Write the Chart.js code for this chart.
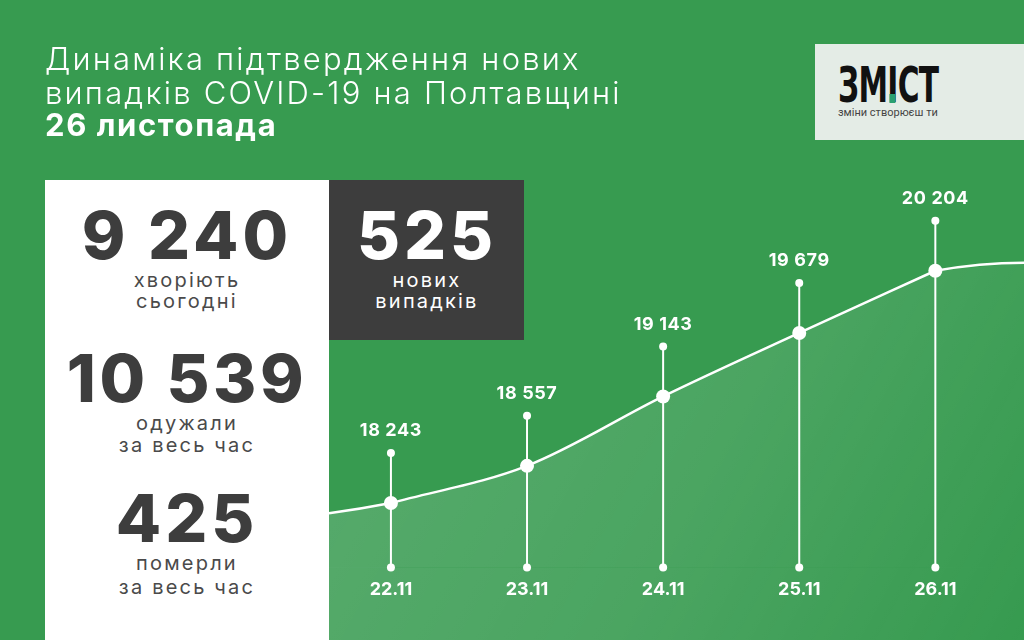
<!DOCTYPE html>
<html><head><meta charset="utf-8">
<script src="https://cdn.jsdelivr.net/npm/chart.js@4.4.1/dist/chart.umd.min.js"></script>
<style>
html,body{margin:0;padding:0;width:1024px;height:640px;overflow:hidden;background:#379b50;font-family:Inter,"Open Sans",sans-serif;}
#wrap{position:relative;width:1024px;height:640px;}
#c{position:absolute;left:0;top:0;z-index:0;}
.t{position:absolute;white-space:nowrap;z-index:2;}
.title{left:45px;color:#fff;font-size:31px;font-weight:300;letter-spacing:2.2px;}
.panel{position:absolute;left:45px;top:180px;width:284px;height:460px;background:#fff;z-index:1;}
.dark{position:absolute;left:329px;top:180px;width:195px;height:160px;background:#3d3d3d;z-index:1;}
.num{font-weight:800;font-size:66px;letter-spacing:4px;color:#3d3d3d;transform:translate(-50%,-50%);}
.sub{font-size:20px;color:#4a4a4a;font-weight:400;transform:translate(-50%,-50%);letter-spacing:2.2px;}
.logo{position:absolute;left:815px;top:44px;width:209px;height:96px;background:#e4ece6;z-index:1;}
.brand{position:absolute;left:838px;top:60px;font-family:"Liberation Sans Narrow","DejaVu Sans Condensed",sans-serif;font-weight:700;font-size:50px;line-height:50px;color:#111;z-index:2;letter-spacing:-1px;transform:scaleX(0.66);transform-origin:0 0;}
.brand .i{position:relative;display:inline-block;}
.brand .sq{position:absolute;left:50%;bottom:7px;width:9px;height:9px;margin-left:-4.5px;background:#2aa070;}
.tag{left:838px;top:106px;font-family:Roboto,sans-serif;font-size:11px;color:#444;}
</style></head>
<body><div id="wrap">
<canvas id="c" width="1024" height="640"></canvas>
<div class="t title" style="top:40px">Динаміка підтвердження нових</div>
<div class="t title" style="top:74px">випадків COVID-19 на Полтавщині</div>
<div class="t title" style="top:106px;font-weight:700;letter-spacing:1.6px">26 листопада</div>
<div class="panel"></div>
<div class="dark"></div>
<div class="t num" style="left:187px;top:235px">9 240</div>
<div class="t sub" style="left:187px;top:280px">хворіють</div>
<div class="t sub" style="left:187px;top:301px">сьогодні</div>
<div class="t num" style="left:187px;top:378px;letter-spacing:3.5px">10 539</div>
<div class="t sub" style="left:187px;top:423px">одужали</div>
<div class="t sub" style="left:187px;top:445px">за весь час</div>
<div class="t num" style="left:187px;top:518px">425</div>
<div class="t sub" style="left:187px;top:563px">померли</div>
<div class="t sub" style="left:187px;top:587px">за весь час</div>
<div class="t num" style="left:427px;top:235px;color:#fff">525</div>
<div class="t sub" style="left:427px;top:280px;color:#fff">нових</div>
<div class="t sub" style="left:427px;top:301px;color:#fff">випадків</div>
<div class="logo"></div>
<div class="t brand">ЗМ<span class="i">І<span class="sq"></span></span>СТ</div>
<div class="t tag">зміни створюєш ти</div>
</div>
<script>
const dates = ['22.11', '23.11', '24.11', '25.11', '26.11'];
const cases = [18243, 18557, 19143, 19679, 20204];

const fmt = v => String(v).replace(/\B(?=(\d{3})+(?!\d))/g, ' ');
let gradCache = null;
function grad(chart) {
  if (!gradCache) {
    const g = chart.ctx.createLinearGradient(329, 260, 1024, 640);
    g.addColorStop(0, 'rgba(255,255,255,0.17)');
    g.addColorStop(0.55, 'rgba(255,255,255,0.10)');
    g.addColorStop(1, 'rgba(255,255,255,0.0)');
    gradCache = g;
  }
  return gradCache;
}

const deco = {
  id: 'deco',
  beforeDatasetsDraw(chart) {
    const ctx = chart.ctx, a = chart.chartArea;
    const pts = chart.getDatasetMeta(0).data;
    const n = pts.length;
    const p0 = pts[0], p1 = pts[1], pl = pts[n - 1], pp = pts[n - 2];
    const right = chart.width;
    const yL = p0.y + (p0.y - p1.y) / (p1.x - p0.x) * (p0.x - a.left) * 0.6;
    const yR = pl.y - (pp.y - pl.y) / (pl.x - pp.x) * (right - pl.x) * 0.2;
    ctx.save();
    ctx.fillStyle = grad(chart);
    ctx.beginPath();
    ctx.moveTo(a.left, yL); ctx.lineTo(p0.x, p0.y); ctx.lineTo(p0.x, a.bottom); ctx.lineTo(a.left, a.bottom); ctx.closePath(); ctx.fill();
    ctx.beginPath();
    ctx.moveTo(pl.x, pl.y); ctx.lineTo(right, yR); ctx.lineTo(right, a.bottom); ctx.lineTo(pl.x, a.bottom); ctx.closePath(); ctx.fill();
    ctx.fillRect(a.left, a.bottom, right - a.left, chart.height - a.bottom);
    ctx.strokeStyle = '#fff'; ctx.lineWidth = 2.5;
    ctx.beginPath(); ctx.moveTo(a.left, yL); ctx.quadraticCurveTo((a.left + p0.x) / 2, (yL + p0.y) / 2 + 1, p0.x, p0.y); ctx.stroke();
    ctx.beginPath(); ctx.moveTo(pl.x, pl.y); ctx.quadraticCurveTo((pl.x + right) / 2, yR, right, yR); ctx.stroke();
    ctx.lineWidth = 2; ctx.fillStyle = '#fff';
    ctx.font = '700 18px Inter, sans-serif';
    try { ctx.letterSpacing = '0.6px'; } catch (e) {}
    ctx.textAlign = 'center'; ctx.textBaseline = 'middle';
    pts.forEach((p, i) => {
      const top = p.y - 50, bot = a.bottom;
      ctx.beginPath(); ctx.moveTo(p.x, top); ctx.lineTo(p.x, bot); ctx.stroke();
      ctx.beginPath(); ctx.arc(p.x, top, 4, 0, Math.PI * 2); ctx.fill();
      ctx.beginPath(); ctx.arc(p.x, bot, 4, 0, Math.PI * 2); ctx.fill();
      ctx.fillText(fmt(cases[i]), p.x, top - 22);
    });
    ctx.restore();
  }
};

new Chart(document.getElementById('c'), {
  type: 'line',
  data: {
    datasets: [{
      data: cases.map((v, i) => ({ x: i, y: v })),
      borderColor: '#ffffff',
      borderWidth: 2.5,
      pointRadius: 7,
      pointBackgroundColor: '#ffffff',
      pointBorderWidth: 0,
      cubicInterpolationMode: 'monotone',
      fill: 'start',
      backgroundColor: (c) => grad(c.chart)
    }]
  },
  options: {
    responsive: false,
    animation: false,
    layout: { padding: { left: 329, top: 180, right: 0, bottom: 37 } },
    plugins: { legend: { display: false }, tooltip: { enabled: false } },
    scales: {
      x: {
        type: 'linear', min: -0.455, max: 4.6,
        grid: { display: false }, border: { display: false },
        afterBuildTicks: (s) => { s.ticks = dates.map((d, i) => ({ value: i })); },
        ticks: { color: '#ffffff', font: { family: 'Inter', weight: '700', size: 18 }, padding: 3, callback: (v) => dates[v] }
      },
      y: { display: false, min: 17700, max: 20970 }
    }
  },
  plugins: [deco]
});
</script>
</body></html>
